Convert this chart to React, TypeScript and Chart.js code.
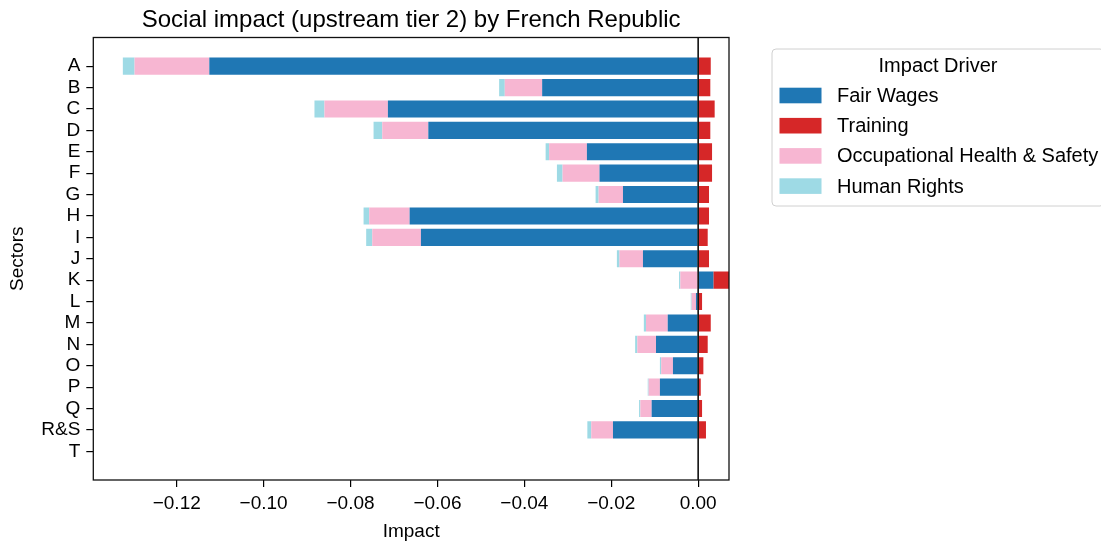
import React, { useEffect, useRef } from 'react';
import { Chart, registerables } from 'chart.js';

Chart.register(...registerables);

const categories = ['A', 'B', 'C', 'D', 'E', 'F', 'G', 'H', 'I', 'J', 'K', 'L', 'M', 'N', 'O', 'P', 'Q', 'R&S', 'T'];

const fairWages = [-0.1125, -0.0359, -0.0714, -0.0621, -0.0256, -0.0227, -0.0173, -0.0664, -0.0638, -0.0127, 0.0035, -0.0005, -0.0070, -0.0097, -0.0058, -0.0088, -0.0107, -0.0196, 0];
const training = [0.0029, 0.0028, 0.0038, 0.0028, 0.0032, 0.0032, 0.0025, 0.0025, 0.0022, 0.0025, 0.0036, 0.0009, 0.0029, 0.0022, 0.0012, 0.0006, 0.0009, 0.0018, 0];
const occupationalHealthSafety = [-0.0172, -0.0086, -0.0146, -0.0106, -0.0087, -0.0085, -0.0056, -0.0093, -0.0112, -0.0054, -0.0041, -0.0010, -0.0050, -0.0043, -0.0027, -0.0026, -0.0026, -0.0050, 0];
const humanRights = [-0.0027, -0.0013, -0.0023, -0.0020, -0.0008, -0.0013, -0.0007, -0.0013, -0.0014, -0.0006, -0.0003, -0.0002, -0.0005, -0.0005, -0.0003, -0.0002, -0.0003, -0.0009, 0];

const seriesLabels = ['Fair Wages', 'Training', 'Occupational Health & Safety', 'Human Rights'];
const seriesColors = ['#1f77b4', '#d62728', '#f7b6d2', '#9edae5'];
const xTickValues = [-0.12, -0.1, -0.08, -0.06, -0.04, -0.02, 0.0];

const titleText = 'Social impact (upstream tier 2) by French Republic';
const legendTitle = 'Impact Driver';
const xAxisTitle = 'Impact';
const yAxisTitle = 'Sectors';

const FONT = '"Liberation Sans", Arial, Helvetica, sans-serif';

export default function App() {
  const ref = useRef<HTMLCanvasElement>(null);

  useEffect(() => {
    const canvas = ref.current;
    if (!canvas) return;
    Chart.defaults.font.family = FONT;
    const values = [fairWages, training, occupationalHealthSafety, humanRights];

    const decorations = {
      id: 'decorations',
      afterDatasetsDraw(chart: any) {
        const { ctx, chartArea: a, scales } = chart;
        ctx.save();
        const x0 = scales.x.getPixelForValue(0);
        ctx.strokeStyle = '#000';
        ctx.lineWidth = 1.5;
        ctx.beginPath();
        ctx.moveTo(x0, a.top);
        ctx.lineTo(x0, a.bottom);
        ctx.stroke();
        ctx.lineWidth = 1.3;
        ctx.strokeStyle = '#111';
        ctx.strokeRect(a.left, a.top, a.right - a.left, a.bottom - a.top);
        ctx.restore();
      },
      afterDraw(chart: any) {
        const { ctx, chartArea: a } = chart;
        ctx.save();
        ctx.fillStyle = '#000';
        ctx.font = `24px ${FONT}`;
        ctx.textAlign = 'center';
        ctx.textBaseline = 'alphabetic';
        ctx.fillText(titleText, (a.left + a.right) / 2, 27);

        // legend box
        const lx = 772, ly = 49, lw = 332, lh = 157, r = 4;
        ctx.beginPath();
        ctx.moveTo(lx + r, ly);
        ctx.lineTo(lx + lw - r, ly);
        ctx.quadraticCurveTo(lx + lw, ly, lx + lw, ly + r);
        ctx.lineTo(lx + lw, ly + lh - r);
        ctx.quadraticCurveTo(lx + lw, ly + lh, lx + lw - r, ly + lh);
        ctx.lineTo(lx + r, ly + lh);
        ctx.quadraticCurveTo(lx, ly + lh, lx, ly + lh - r);
        ctx.lineTo(lx, ly + r);
        ctx.quadraticCurveTo(lx, ly, lx + r, ly);
        ctx.closePath();
        ctx.fillStyle = 'rgba(255,255,255,0.8)';
        ctx.fill();
        ctx.strokeStyle = '#d0d0d0';
        ctx.lineWidth = 1;
        ctx.stroke();

        ctx.fillStyle = '#000';
        ctx.font = `20px ${FONT}`;
        ctx.textAlign = 'center';
        ctx.textBaseline = 'middle';
        ctx.fillText(legendTitle, lx + lw / 2, 66);

        const datasets = chart.data.datasets;
        ctx.textAlign = 'left';
        datasets.forEach((ds: any, i: number) => {
          const cy = 95.5 + i * 30.2;
          ctx.fillStyle = ds.backgroundColor;
          ctx.fillRect(779.5, cy - 7.8, 42, 15.6);
          ctx.fillStyle = '#000';
          ctx.fillText(ds.label, 837, cy + 1);
        });
        ctx.restore();
      },
    };

    const chart = new Chart(canvas, {
      type: 'bar',
      data: {
        labels: categories.map((_, i) => i),
        datasets: seriesLabels.map((label, i) => ({
          label,
          data: values[i],
          backgroundColor: seriesColors[i],
          borderWidth: 0,
          categoryPercentage: 1,
          barPercentage: 0.8,
        })),
      },
      options: {
        indexAxis: 'y',
        responsive: false,
        animation: false,
        layout: { padding: { left: 0, right: 372, top: 37.5, bottom: 0 } },
        plugins: {
          legend: { display: false },
          title: { display: false },
          tooltip: { enabled: false },
        },
        scales: {
          x: {
            type: 'linear',
            position: 'bottom',
            stacked: true,
            offset: false,
            min: -0.1392,
            max: 0.0071,
            afterBuildTicks: (s: any) => {
              s.ticks = xTickValues.map((v) => ({ value: v }));
            },
            afterFit: (s: any) => {
              s.height = 66;
            },
            ticks: {
              autoSkip: false,
              maxRotation: 0,
              minRotation: 0,
              color: '#000',
              font: { size: 19 },
              padding: 5,
              callback: (v: any) => Number(v).toFixed(2).replace('-', '\u2212'),
            },
            grid: { offset: false, drawOnChartArea: false, drawTicks: true, tickLength: 7, color: '#000', lineWidth: 1.2 },
            border: { display: false },
            title: { display: true, text: xAxisTitle, color: '#000', font: { size: 19 }, padding: { top: 0, bottom: 3 } },
          },
          y: {
            type: 'linear',
            reverse: true,
            stacked: true,
            offset: false,
            min: -1.34,
            max: 19.34,
            afterBuildTicks: (s: any) => {
              s.ticks = categories.map((_, i) => ({ value: i }));
            },
            afterFit: (s: any) => {
              s.width = 93.3;
            },
            ticks: {
              autoSkip: false,
              color: '#000',
              font: { size: 19 },
              padding: 6,
              callback: (v: any) => categories[v] ?? '',
            },
            grid: { offset: false, drawOnChartArea: false, drawTicks: true, tickLength: 7, color: '#000', lineWidth: 1.2 },
            border: { display: false },
            title: { display: true, text: yAxisTitle, color: '#000', font: { size: 19 }, padding: { top: 6, bottom: 0 } },
          },
        },
      },
      plugins: [decorations],
    } as any);

    return () => chart.destroy();
  }, []);

  return (
    <div style={{ position: 'fixed', left: 0, top: 0, width: 1101, height: 546, background: '#fff' }}>
      <canvas ref={ref} width={1101} height={546} style={{ display: 'block', width: 1101, height: 546 }} />
    </div>
  );
}
